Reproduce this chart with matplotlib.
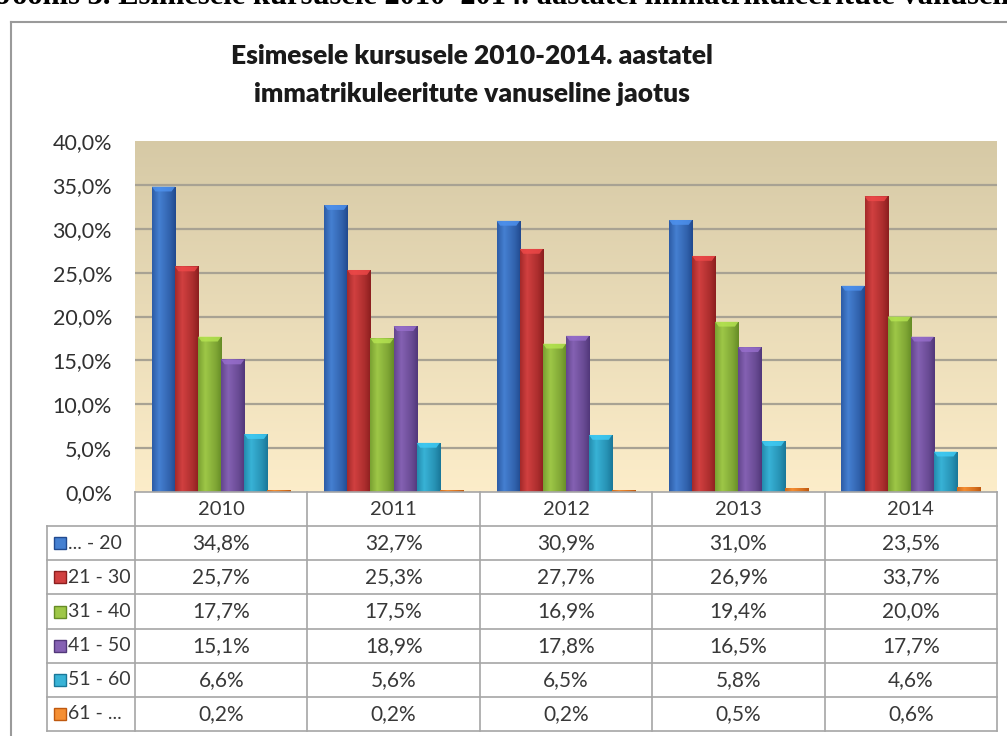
import numpy as np
import matplotlib
matplotlib.use("Agg")
import matplotlib.pyplot as plt
from matplotlib.patches import Polygon

# --- Daten ---
aastad = ["2010", "2011", "2012", "2013", "2014"]
vanused = ["... - 20", "21 - 30", "31 - 40", "41 - 50", "51 - 60", "61 - ..."]
v_20 = [34.8, 32.7, 30.9, 31.0, 23.5]
v_21_30 = [25.7, 25.3, 27.7, 26.9, 33.7]
v_31_40 = [17.7, 17.5, 16.9, 19.4, 20.0]
v_41_50 = [15.1, 18.9, 17.8, 16.5, 17.7]
v_51_60 = [6.6, 5.6, 6.5, 5.8, 4.6]
v_61 = [0.2, 0.2, 0.2, 0.5, 0.6]
seeriad = [v_20, v_21_30, v_31_40, v_41_50, v_51_60, v_61]
yticks = [0, 5, 10, 15, 20, 25, 30, 35, 40]

# (tume serv, hele keskosa)
varvid = [
    ((0.13, 0.29, 0.56), (0.27, 0.50, 0.82)),
    ((0.55, 0.12, 0.12), (0.82, 0.25, 0.25)),
    ((0.40, 0.55, 0.15), (0.62, 0.78, 0.28)),
    ((0.32, 0.22, 0.48), (0.52, 0.38, 0.70)),
    ((0.10, 0.47, 0.60), (0.22, 0.70, 0.84)),
    ((0.75, 0.35, 0.06), (0.96, 0.56, 0.20)),
]

W, H = 1007, 736
plt.rcParams["font.family"] = ["Lato", "DejaVu Sans"]
fig = plt.figure(figsize=(W / 100, H / 100), dpi=100)


def fx(px):
    return px / W


def fy(py):
    return 1 - py / H


# pealkiri ülal (osaliselt ära lõigatud)
fig.text(fx(-3), fy(4), "Joonis 3. Esimesele kursusele 2010\u20132014. aastatel immatrikuleeritute vanuseline jaotus",
         family="Liberation Serif", fontweight="bold", fontsize=22, ha="left", va="baseline", color="black")

# raam
fig.add_artist(plt.Line2D([fx(11), fx(11)], [fy(22), 0], transform=fig.transFigure, color="#9a9a9a", lw=1.5))
fig.add_artist(plt.Line2D([fx(11), 1], [fy(22), fy(22)], transform=fig.transFigure, color="#9a9a9a", lw=1.5))

fig.text(fx(472), fy(56), "Esimesele kursusele 2010-2014. aastatel", ha="center", va="center",
         fontsize=19, fontweight="heavy", color="#1a1a1a")
fig.text(fx(472), fy(94), "immatrikuleeritute vanuseline jaotus", ha="center", va="center",
         fontsize=19, fontweight="heavy", color="#1a1a1a")

ax = fig.add_axes([fx(135), fy(492), fx(997) - fx(135), (492 - 141) / H])

# taust
top = np.array([0.84, 0.79, 0.65])
bot = np.array([0.99, 0.93, 0.79])
grad = np.linspace(0, 1, 200)[:, None, None]
bg = top * (1 - grad) + bot * grad
ax.imshow(bg, extent=(0, 1, 0, 1), transform=ax.transAxes, aspect="auto", zorder=0)

n = len(seeriad)
laius = 0.134
x = np.arange(len(aastad))
for i, (vals, (dark, light)) in enumerate(zip(seeriad, varvid)):
    dark = np.array(dark)
    light = np.array(light)
    t = np.linspace(0, 1, 40)
    f = np.interp(t, [0, 0.3, 0.75, 1], [0.35, 1.0, 0.45, 0.0])
    prof = dark[None, :] * (1 - f[:, None]) + light[None, :] * f[:, None]
    img = prof[None, :, :]
    xs = x - laius * n / 2 + laius * (i + 0.5)
    bars = ax.bar(xs, vals, width=laius, color=dark, linewidth=0, zorder=2)
    for b, v in zip(bars, vals):
        x0 = b.get_x()
        im = ax.imshow(img, extent=(x0, x0 + laius, 0, v), aspect="auto", zorder=3)
        im.set_clip_path(b)
        if v > 1:
            cap = Polygon([[x0, v], [x0 + laius, v], [x0 + laius * 0.85, v - 0.55],
                           [x0 + laius * 0.15, v - 0.55]], closed=True,
                          facecolor=np.minimum(light * 1.15, 1), edgecolor="none", alpha=0.8, zorder=4)
            ax.add_patch(cap)

ax.set_xlim(-0.5, 4.5)
ax.set_ylim(0, 40)
ax.set_yticks(yticks)
ax.set_yticklabels([f"{v:.1f}%".replace(".", ",") for v in yticks], fontsize=15.5, color="#303030")
ax.set_xticks([])
ax.tick_params(axis="y", length=0, pad=16.5)
for yv in yticks[1:-1]:
    ax.axhline(yv, color="#a8a293", lw=1.6, zorder=1)
for s in ax.spines.values():
    s.set_visible(False)

# andmetabel
tax = fig.add_axes([fx(47), fy(731), fx(997) - fx(47), (731 - 492) / H])
lx = -0.5 - (135 - 47) / 172.4
tax.set_xlim(lx, 4.5)
tax.set_ylim(7, 0)
tax.axis("off")
lc = "#a6a6a6"
tax.plot([-0.5, 4.5], [0, 0], color=lc, lw=1.2, clip_on=False)
for r in range(1, 8):
    tax.plot([lx, 4.5], [r, r], color=lc, lw=1.2, clip_on=False)
tax.plot([lx, lx], [1, 7], color=lc, lw=1.2, clip_on=False)
for k in range(6):
    tax.plot([-0.5 + k, -0.5 + k], [0, 7], color=lc, lw=1.2, clip_on=False)

for j, a in enumerate(aastad):
    tax.text(j, 0.5, a, ha="center", va="center", fontsize=14.5, color="#383838")
for i, (nimi, vals) in enumerate(zip(vanused, seeriad)):
    r = i + 1.5
    tax.plot([lx + 13 / 172.4], [r], marker="s", markersize=8.5, color=varvid[i][1],
             markeredgecolor=varvid[i][0], markeredgewidth=1, clip_on=False)
    tax.text(lx + 21 / 172.4, r, nimi, ha="left", va="center", fontsize=14, color="#383838")
    for j, v in enumerate(vals):
        tax.text(j, r, f"{v:.1f}%".replace(".", ","), ha="center", va="center", fontsize=15, color="#383838")

fig.savefig("out.png", dpi=100)
